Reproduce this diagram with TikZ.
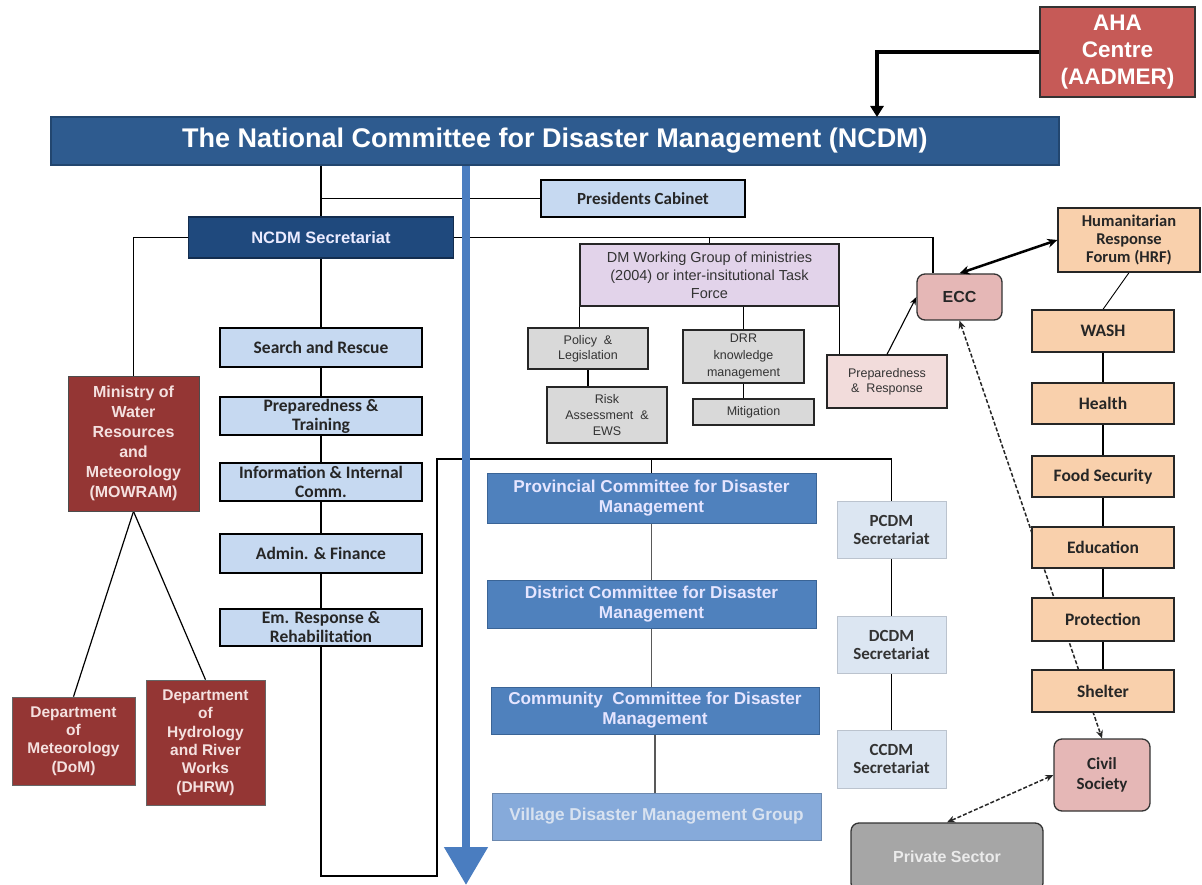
\documentclass[tikz,border=0pt]{standalone}
\usepackage{fontspec}
\setmainfont{Liberation Sans}
\newfontfamily\carlito{Carlito}
\usetikzlibrary{arrows.meta,backgrounds}
\definecolor{ncdmblue}{HTML}{2E5B8F}
\definecolor{ncdmedge}{HTML}{22466F}
\definecolor{secnavy}{HTML}{1F497D}
\definecolor{secedge}{HTML}{132D4F}
\definecolor{servblue}{HTML}{C6D9F1}
\definecolor{comblue}{HTML}{4F81BD}
\definecolor{comedge}{HTML}{3A6496}
\definecolor{villblue}{HTML}{86AADA}
\definecolor{villtext}{HTML}{D8E2F0}
\definecolor{pcdmblue}{HTML}{DCE6F2}
\definecolor{mowred}{HTML}{943634}
\definecolor{mowtext}{HTML}{F4E0DF}
\definecolor{ahared}{HTML}{C65A57}
\definecolor{dmlav}{HTML}{E2D3EA}
\definecolor{dmgray}{HTML}{D9D9D9}
\definecolor{preppink}{HTML}{F2DCDB}
\definecolor{eccpink}{HTML}{E5B7B6}
\definecolor{sectorbox}{HTML}{F9D0AC}
\definecolor{privgray}{HTML}{A6A6A6}
\definecolor{flowblue}{HTML}{4A7DC0}
\begin{document}
\begin{tikzpicture}[x=1pt,y=-1pt,
    every node/.style={inner sep=0pt,align=center},
    link/.style={draw=black,line width=1.2pt},
    ahabox/.style={fill=ahared,draw=black!80,line width=1.2pt,text=white,font=\fontsize{22.5}{27}\selectfont\bfseries},
    titlebar/.style={fill=ncdmblue,draw=ncdmedge,line width=1.5pt,text=white,font=\fontsize{27}{30}\selectfont\bfseries},
    secbox/.style={fill=secnavy,draw=secedge,line width=1.2pt,text=white!92!blue,font=\fontsize{16.5}{19}\selectfont\bfseries},
    servbox/.style={fill=servblue,draw=black,line width=1.3pt,text=black!85,font=\carlito\fontsize{17.5}{19}\selectfont\bfseries},
    mowbox/.style={fill=mowred,draw=black!70,line width=0.8pt,text=mowtext,font=\fontsize{16}{20}\selectfont\bfseries},
    deptbox/.style={fill=mowred,draw=black!60,line width=0.6pt,text=mowtext,font=\fontsize{15.5}{18.4}\selectfont\bfseries},
    wgbox/.style={fill=dmlav,draw=black!85,line width=1.2pt,text=black!80,font=\fontsize{14.5}{18}\selectfont},
    graybox/.style={fill=dmgray,draw=black!85,line width=1.2pt,text=black!80,font=\fontsize{12.5}{16}\selectfont},
    prepbox/.style={fill=preppink,draw=black!85,line width=1.2pt,text=black!80,font=\fontsize{12.5}{15}\selectfont},
    roundbox/.style={fill=eccpink,draw=black!80,line width=1.3pt,rounded corners=8pt},
    sectbox/.style={fill=sectorbox,draw=black!85,line width=1.3pt,text=black!85,font=\carlito\fontsize{17.5}{18}\selectfont\bfseries},
    combox/.style={fill=comblue,draw=comedge,line width=1pt,text=white!90!blue,font=\fontsize{17.2}{20}\selectfont\bfseries},
    pcdmbox/.style={fill=pcdmblue,draw=pcdmblue!85!black,line width=0.4pt,text=black!80,font=\carlito\fontsize{17}{18}\selectfont\bfseries},
    bigflow/.style={draw=flowblue,line width=8pt,-{Triangle[width=42pt,length=38pt]}},
    dashlink/.style={draw=black!85,line width=1.5pt,dash pattern=on 4pt off 2pt,{Stealth[length=8pt,width=7pt]}-{Stealth[length=8pt,width=7pt]}}]
\useasboundingbox (0,0) rectangle (1202,885);
\begin{scope}
\clip (0,0) rectangle (1202,885);
\node[ahabox,minimum width=155,minimum height=90] (aha) at (1117.5,52) {AHA\\Centre\\(AADMER)};
\node[titlebar,minimum width=1008,minimum height=48] (ncdm) at (555,141) {The National Committee for Disaster Management (NCDM)};
\node[servbox,minimum width=204,minimum height=37,font=\carlito\fontsize{17}{19}\selectfont\bfseries] (pres) at (643,198.5) {Presidents Cabinet};
\node[secbox,minimum width=265,minimum height=41] (sec) at (321,237.5) {NCDM Secretariat};
\node[mowbox,minimum width=131,minimum height=135] (mowram) at (133.5,443.5) {Ministry of\\Water\\Resources\\and\\Meteorology\\(MOWRAM)};
\node[deptbox,minimum width=123,minimum height=88] (dom) at (73.5,741) {Department\\of\\Meteorology\\(DoM)};
\node[deptbox,minimum width=119,minimum height=125] (dhrw) at (205.5,742.5) {Department\\of\\Hydrology\\and River\\Works\\(DHRW)};
\node[servbox,minimum width=202,minimum height=39] (sar) at (321,347.5) {Search and Rescue};
\node[servbox,minimum width=202,minimum height=38] (prt) at (321,416) {Preparedness \&\\Training};
\node[servbox,minimum width=202,minimum height=38] (iic) at (321,482) {Information \& Internal\\Comm.};
\node[servbox,minimum width=202,minimum height=39] (adf) at (321,553.5) {Admin. \& Finance};
\node[servbox,minimum width=202,minimum height=37] (err) at (321,627.5) {Em. Response \&\\Rehabilitation};
\node[wgbox,minimum width=259,minimum height=62] (dmwg) at (709.5,275) {DM Working Group of ministries\\(2004) or inter-insitutional Task\\Force};
\node[graybox,minimum width=120,minimum height=41,font=\fontsize{12.5}{15}\selectfont] (pol) at (588,348.5) {Policy \ \&\\Legislation};
\node[graybox,minimum width=120,minimum height=56] (risk) at (607,415) {Risk\\Assessment \ \&\\EWS};
\node[graybox,minimum width=121,minimum height=53,font=\fontsize{12.5}{17}\selectfont] (drr) at (743.5,356.5) {DRR\\knowledge\\management};
\node[graybox,minimum width=121,minimum height=26] (mit) at (753.5,412) {Mitigation};
\node[prepbox,minimum width=120,minimum height=53] (prep) at (887,381.5) {Preparedness\\\& \ Response};
\node[roundbox,minimum width=85,minimum height=46,text=black!85,font=\fontsize{16}{18}\selectfont\bfseries] (ecc) at (959.5,297) {ECC};
\node[sectbox,minimum width=142,minimum height=64,font=\carlito\fontsize{16.5}{18}\selectfont\bfseries] (hrf) at (1129,240) {Humanitarian\\Response\\Forum (HRF)};
\node[sectbox,minimum width=142,minimum height=42] (wash) at (1103,331) {WASH};
\node[sectbox,minimum width=142,minimum height=41] (health) at (1103,403.5) {Health};
\node[sectbox,minimum width=142,minimum height=41] (food) at (1103,476.5) {Food Security};
\node[sectbox,minimum width=142,minimum height=41] (edu) at (1103,547.5) {Education};
\node[sectbox,minimum width=142,minimum height=43] (prot) at (1103,619.5) {Protection};
\node[sectbox,minimum width=142,minimum height=42] (shel) at (1103,691) {Shelter};
\node[roundbox,minimum width=96,minimum height=72,text=black!85,font=\carlito\fontsize{17}{20}\selectfont\bfseries] (cs) at (1102,775) {Civil\\Society};
\node[roundbox,fill=privgray,minimum width=192,minimum height=68,text=black!8,font=\fontsize{16}{18}\selectfont\bfseries] (priv) at (947,857) {Private Sector};
\node[combox,minimum width=329,minimum height=50] (prov) at (651.5,498) {Provincial Committee for Disaster\\Management};
\node[combox,minimum width=329,minimum height=48] (dist) at (651.5,604) {District Committee for Disaster\\Management};
\node[combox,minimum width=328,minimum height=47] (comm) at (655,710.5) {Community \ Committee for Disaster\\Management};
\node[combox,fill=villblue,draw=villblue!80!black,text=villtext,minimum width=329,minimum height=47] (vill) at (656.5,816.5) {Village Disaster Management Group};
\node[pcdmbox,minimum width=109,minimum height=57] (pcdm) at (891.5,529.5) {PCDM\\Secretariat};
\node[pcdmbox,minimum width=109,minimum height=57] (dcdm) at (891.5,644.5) {DCDM\\Secretariat};
\node[pcdmbox,minimum width=109,minimum height=58] (ccdm) at (891.5,759) {CCDM\\Secretariat};
\coordinate (ncdmin) at (877,117);
\coordinate (loopbl) at (321,876);
\coordinate (looptl) at (437,459);
\coordinate (flowend) at (466,885);
\begin{scope}[on background layer]
\draw[link] (ncdm.south -| sec.north) -- (sec.north);
\draw[link] (pres.west) -- (pres.west -| sec.north);
\draw[link] (sec.west) -| (mowram.north);
\draw[link] (sec.east) -| ([xshift=-26.5pt]ecc.north);
\draw[link] (dmwg.north) -- (dmwg.north |- sec.east);
\draw[link] (sec.south) -- (loopbl) -| (looptl) -| (pcdm.north);
\draw[link] (prov.north) -- (prov.north |- looptl);
\draw[link] (mowram.south) -- (dom.north);
\draw[link] (mowram.south) -- (dhrw.north);
\draw[link] (dmwg.south west) -- (dmwg.south west |- pol.north);
\draw[link] (pol.south) -- (pol.south |- risk.north);
\draw[link] (drr.north |- dmwg.south) -- (drr.north);
\draw[link] (drr.south) -- (drr.south |- mit.north);
\draw[link] (dmwg.south east) -- (dmwg.south east |- prep.north);
\draw[link,draw=black!65] (prov.south) -- (dist.north);
\draw[link,draw=black!65] (dist.south) -- (dist.south |- comm.north);
\draw[link,draw=black!65] (comm.south) -- (comm.south |- vill.north);
\draw[link] (pcdm) -- (dcdm) -- (ccdm);
\draw[link] (wash) -- (health) -- (food) -- (edu) -- (prot) -- (shel);
\draw[link,line width=0.9pt] (hrf.south) -- (wash.north);
\draw[dashlink] (ecc.south) -- (cs.north);
\end{scope}
\draw[bigflow] (ncdm.south -| flowend) -- (flowend);
\draw[line width=4pt,-{Triangle[width=13pt,length=11pt]}] (aha.west) -| (ncdmin);
\draw[line width=1.1pt,-{Stealth[length=8pt,width=6pt]}] (prep.north) -- (ecc.west);
\draw[line width=2.5pt,{Stealth[length=10pt,width=9pt]}-{Stealth[length=10pt,width=9pt]}] (ecc.north) -- (hrf.west);
\draw[dashlink] (cs.west) -- (priv.north);
\end{scope}
\end{tikzpicture}
\end{document}
